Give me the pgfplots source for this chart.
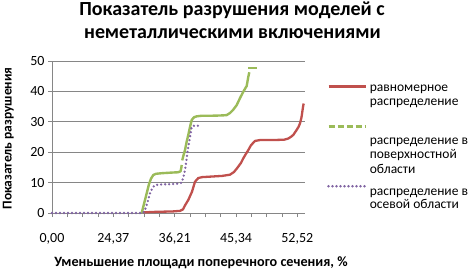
\documentclass[border=0pt]{standalone}
\usepackage{fontspec}
\setmainfont{Carlito}
\usepackage{pgfplots}
\pgfplotsset{compat=1.18}
\definecolor{cred}{HTML}{C0504D}
\definecolor{cgreen}{HTML}{9BBB59}
\definecolor{cpurple}{HTML}{8064A2}
\definecolor{cgrid}{HTML}{868686}
\newcommand{\lr}[2]{\fontsize{13.5}{16.5}\selectfont\rule[-4.5pt]{0pt}{#1}#2}
\begin{document}
\begin{tikzpicture}[x=1pt,y=1pt]
\useasboundingbox (0,0) rectangle (470,271);
\begin{axis}[
  at={(52pt,58pt)}, anchor=south west,
  scale only axis, width=253pt, height=152pt,
  xmin=0, xmax=253, ymin=0, ymax=50,
  clip=false,
  axis x line*=bottom, axis y line*=left,
  axis line style={cgrid, line width=0.8pt, -},
  ytick={0,10,20,30,40,50},
  ymajorgrids, major grid style={cgrid, line width=0.8pt},
  xtick={0,61.33,122.67,184,245.33},
  xticklabels={{0,00},{24,37},{36,21},{45,34},{52,52}},
  minor xtick={15.33,30.67,46,76.67,92,107.33,138,153.33,168.67,199.33,214.67,230},
  tick align=outside, major tick length=4pt, minor tick length=4pt,
  tick style={cgrid, line width=0.8pt},
  ticklabel style={font=\fontsize{14}{16}\selectfont},
  xticklabel style={yshift=-13pt},
  /pgf/number format/assume math mode=true,
  legend style={at={(axis description cs:1.087,0.878)}, anchor=north west,
    draw=none, fill=none, inner sep=0pt, row sep=0pt, column sep=3pt,
    nodes={inner sep=0pt, outer sep=0pt}},
  legend cell align=left,
  every axis plot/.append style={legend image code/.code={\draw[##1] (0pt,0pt) -- (37pt,0pt);}},
]
\addplot[cred, line width=2.3pt, line join=round] coordinates {
(91.3,0.2)(105,0.4)(120,0.5)(128,0.7)(131,1.2)(133,2.5)(136.3,4.3)(140,7)(143,10.3)
(146.3,11.5)(150,11.8)(160,12)(170,12.2)(178,12.6)(182,13.5)(185,14.7)(189,16.5)
(191.3,18)(194,19.5)(196.3,20.7)(199,22.3)(203,23.7)(208,24)(220,24)(232,24.1)
(236.3,24.5)(239.5,25.2)(241.3,25.7)(244,27)(246.5,28.3)(248,29.5)(249.5,31.5)
(251.3,35.5)(251.8,36)};
\addlegendentry{\lr{16.5pt}{равномерное}}
\addlegendimage{empty legend}
\addlegendentry{\lr{16.5pt}{распределение}}
\addplot[cgreen, line width=2.4pt, line join=round,
  legend image code/.code={\draw[cgreen,line width=2.4pt,dash pattern=on 6pt off 3pt] (0pt,0pt) -- (37pt,0pt);}]
 coordinates {
(89.7,0)(92,3)(94.7,6.5)(97,9.5)(99,11.3)(101.3,12.5)(104,12.9)(110,13.1)(120,13.3)
(126,13.4)(128.5,13.7)(129.2,14.7)(129.7,15.8)};
\addlegendentry{\lr{42.5pt}{распределение в}}
\addlegendimage{empty legend}
\addlegendentry{\lr{17pt}{поверхностной}}
\addlegendimage{empty legend}
\addlegendentry{\lr{18pt}{области}}
\addplot[cgreen, line width=2.4pt, line join=round, forget plot] coordinates {
(130.2,17.3)(131.5,19)(133,20.7)(134.7,23.5)(136.3,25.7)(138,28.3)(139.7,30.6)
(142,31.5)(144.7,31.8)(150,32)(160,32)(170,32.1)(174.7,32.2)(178,32.9)(181.3,34)
(184.7,35.5)(188,37.8)(191.3,39.9)(194.7,41.8)(196.3,44.8)(197.3,46.3)};
\addplot[cgreen, line width=2.4pt, forget plot] coordinates {(196,47.7)(205,47.7)};
\addplot[cpurple, line width=2.6pt, line cap=round, dash pattern=on 0pt off 4pt] coordinates {
(0,0)(30,0)(60,0)(91,0)(93,1)(95.5,3.5)(98,6.5)(100.5,8.3)(103,9.2)(110,9.4)(120,9.5)
(127,9.7)(129.7,10)(131.5,12)(133,14.1)(134.7,18)(136.3,21.8)(138,25)(139.7,28.4)
(142,28.7)(148,28.7)};
\addlegendentry{\lr{25pt}{распределение в}}
\addlegendimage{empty legend}
\addlegendentry{\lr{16pt}{осевой области}}
\end{axis}
\node[anchor=base, font=\bfseries\fontsize{20}{23}\selectfont] at (232,255) {Показатель разрушения моделей с};
\node[anchor=base, font=\bfseries\fontsize{20}{23}\selectfont] at (232.5,233) {неметаллическими включениями};
\node[rotate=90, anchor=base, font=\bfseries\fontsize{13.5}{16}\selectfont] at (11.5,132.5) {Показатель разрушения};
\node[anchor=base, font=\bfseries\fontsize{14.2}{16}\selectfont] at (201,4.5) {Уменьшение площади поперечного сечения, \%};
\end{tikzpicture}
\end{document}
